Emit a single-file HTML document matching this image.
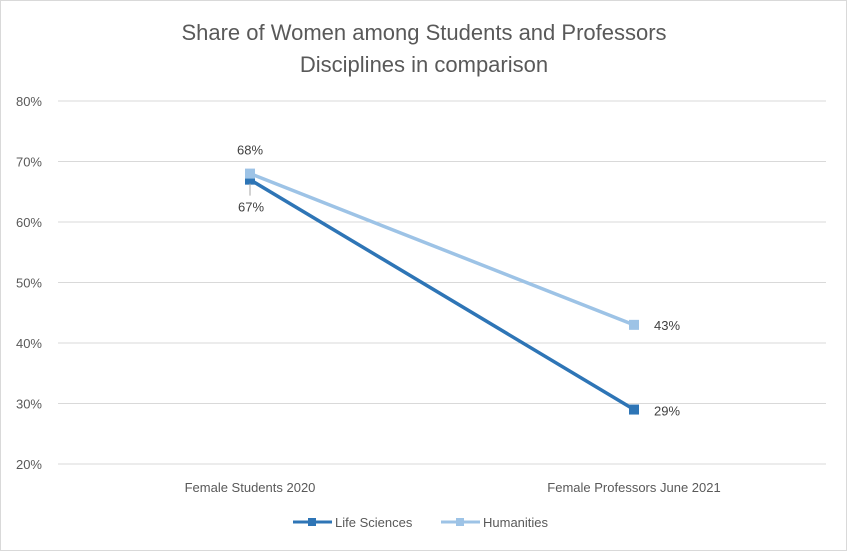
<!DOCTYPE html>
<html><head><meta charset="utf-8"><style>
html,body{margin:0;padding:0;background:#fff}
svg{display:block;font-family:"Liberation Sans",sans-serif}
</style></head><body>
<svg id="chart" width="847" height="551" viewBox="0 0 847 551">
<rect x="0.5" y="0.5" width="846" height="550" fill="#fff" stroke="#d9d9d9"/>
<text x="424" y="40" text-anchor="middle" font-size="22" fill="#595959">Share of Women among Students and Professors</text>
<text x="424" y="72" text-anchor="middle" font-size="22" fill="#595959">Disciplines in comparison</text>
<g id="grid"></g><g id="series"></g><g id="labels"></g>
<g>
<g>
<line x1="293" y1="522" x2="332" y2="522" stroke="#2E75B6" stroke-width="3"/>
<rect x="308" y="518" width="8" height="8" fill="#2E75B6"/>
<text x="335" y="527" font-size="13" fill="#595959">Life Sciences</text></g>
<g>
<line x1="441" y1="522" x2="480" y2="522" stroke="#9DC3E6" stroke-width="3"/>
<rect x="456" y="518" width="8" height="8" fill="#9DC3E6"/>
<text x="483" y="527" font-size="13" fill="#595959">Humanities</text></g>
</g>
</svg>
<script>
const categories=["Female Students 2020","Female Professors June 2021"];
const lifeSciences=[67,29];
const humanities=[68,43];
const yTicks=[20,30,40,50,60,70,80];
const NS="http://www.w3.org/2000/svg";
const x0=58,x1=826,yTop=101,yBot=464,yMin=20,yMax=80;
const y=v=>yBot-(v-yMin)/(yMax-yMin)*(yBot-yTop);
const band=(x1-x0)/categories.length;
const x=i=>x0+band*(i+0.5);
function mk(t,a,p){const e=document.createElementNS(NS,t);for(const k in a)e.setAttribute(k,a[k]);p.appendChild(e);return e;}
const grid=document.getElementById('grid'),ser=document.getElementById('series'),lab=document.getElementById('labels');
yTicks.forEach(t=>{
 const l=mk('line',{x1:x0,x2:x1,y1:y(t),y2:y(t),stroke:'#d9d9d9','stroke-width':1},grid);
 
 
 const tx=mk('text',{x:42,y:y(t)+5,'text-anchor':'end','font-size':13,fill:'#595959'},grid);
 tx.textContent=t+'%';
 
 
});
categories.forEach((c,i)=>{
 const tx=mk('text',{x:x(i),y:492,'text-anchor':'middle','font-size':13,fill:'#595959'},grid);
 tx.textContent=c;
 
 
});
function draw(vals,color,name){
 const pl=mk('polyline',{points:vals.map((v,i)=>x(i)+','+y(v)).join(' '),fill:'none',stroke:color,'stroke-width':3.5},ser);
 
 
 vals.forEach((v,i)=>{
  const r=mk('rect',{x:x(i)-5,y:y(v)-5,width:10,height:10,fill:color},ser);
  
  
 });
}
draw(lifeSciences,'#2E75B6','life-sciences');
draw(humanities,'#9DC3E6','humanities');
function label(txt,px,py,anchor,name){
 const t=mk('text',{x:px,y:py,'text-anchor':anchor,'font-size':13,fill:'#404040'},lab);
 t.textContent=txt;
 
 
}
label(humanities[0]+'%',x(0),y(humanities[0])-19,'middle','humanities-label-1');
const ld=mk('line',{x1:x(0),x2:x(0),y1:y(lifeSciences[0])+4,y2:y(lifeSciences[0])+16,stroke:'#a6a6a6'},lab);


label(lifeSciences[0]+'%',x(0)+1,y(lifeSciences[0])+32,'middle','life-sciences-label-1');
label(humanities[1]+'%',x(1)+33,y(humanities[1])+5,'middle','humanities-label-2');
label(lifeSciences[1]+'%',x(1)+33,y(lifeSciences[1])+6,'middle','life-sciences-label-2');
</script>
</body></html>
